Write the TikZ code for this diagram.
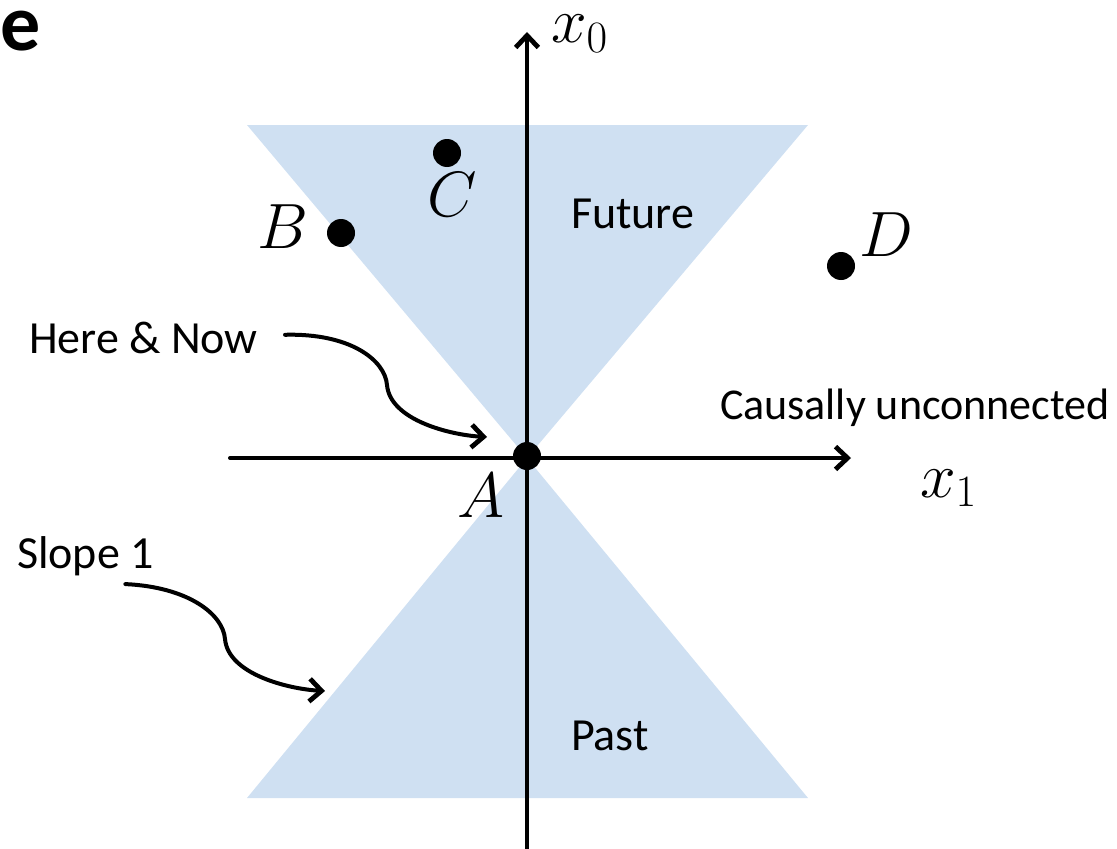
\RequirePackage{fix-cm}
\documentclass[tikz,border=0pt]{standalone}
\usepackage{fontspec}
\setmainfont{Carlito}
\usetikzlibrary{arrows.meta}
\definecolor{coneblue}{RGB}{207,224,242}

\begin{document}
\begin{tikzpicture}[x=0.75pt, y=-0.75pt, line width=3pt, line cap=round, line join=round,
    >={Straight Barb[length=9pt,width=17pt,line width=3.6pt]},
    dot/.style={circle, fill=black, inner sep=0pt, minimum size=21pt},
    lbl/.style={font=\fontsize{34.5}{40}\selectfont, anchor=base west, inner sep=0pt},
    mlbl/.style={font=\fontsize{48}{54}\selectfont, anchor=base, inner sep=0pt}]
  \useasboundingbox (0,0) rectangle (1117,849);
  % light cones
  \fill[coneblue] (247,125) -- (808,125) -- (527,458) -- cycle;
  \fill[coneblue] (247,798) -- (808,798) -- (527,458) -- cycle;
  % axes
  \draw[->] (527,849) -- (527,32);
  \draw[->] (230,458) -- (851,458);
  \node[mlbl, anchor=base west] (xz) at (549,43) {$x_0$};
  \node[mlbl, anchor=base west] (xo) at (918,497) {$x_1$};
  % events
  \node[dot] (A) at (527,456) {};
  \foreach \n/\p in {B/{(341,233)}, C/{(447,153)}, D/{(841,266)}} { \node[dot] (\n) at \p {}; }
  \node[mlbl] (Alab) at (481,517) {$A$};
  \node[mlbl] (Blab) at (283,248) {$B$};
  \node[mlbl] (Clab) at (452,216) {$C$};
  \node[mlbl] (Dlab) at (886,256) {$D$};
  % regions
  \node[lbl] (future) at (569,228) {Future};
  \node[lbl] (past) at (569,750) {Past};
  \node[lbl, font=\fontsize{33}{40}\selectfont] (causal) at (718,419) {Causally unconnected};
  \node[lbl] (herenow) at (27,353) {Here \& Now};
  \node[lbl] (slope) at (15,568) {Slope 1};
  \node[font=\fontsize{60}{66}\selectfont\bfseries, anchor=base west, inner sep=0pt] (panel) at (-1,51) {e};
  % pointers
  \coordinate (hnmid) at (387,385);
  \coordinate (hnend) at (487,437);
  \coordinate (slmid) at (225,639);
  \coordinate (slend) at (325,691);
  \draw[->] ([xshift=19pt,yshift=2pt]herenow.east) .. controls (350,333) and (385,360) .. (hnmid)
            .. controls (390,420) and (450,435) .. (hnend);
  \draw[->] ([xshift=30pt,yshift=-5pt]slope.south) .. controls (188,587) and (223,614) .. (slmid)
            .. controls (228,674) and (288,689) .. (slend);
\end{tikzpicture}
\end{document}
